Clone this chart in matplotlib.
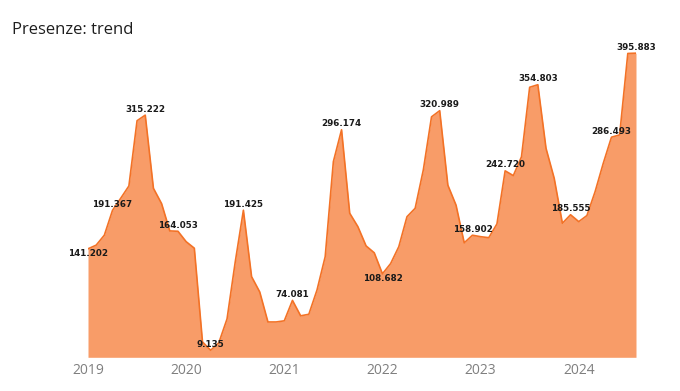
import numpy as np
import pandas as pd
import matplotlib
matplotlib.use("Agg")
import matplotlib.pyplot as plt

# monthly presences, Jan 2019 - Aug 2024
months = pd.date_range("2019-01-01", "2024-08-01", freq="MS")
presenze = [
    141202, 146000, 159000, 191367, 207000, 223000, 308000, 315222, 220000, 200000, 164500, 164053,
    150500, 142000, 20000, 9135, 19000, 50000, 124000, 191425, 105000, 85000, 46000, 46000,
    47500, 74081, 54000, 56000, 87600, 131000, 254700, 296174, 187500, 170000, 145000, 136000,
    108682, 122000, 144000, 183000, 194000, 244000, 313000, 320989, 224000, 198000, 149000, 158902,
    157000, 155700, 173600, 242720, 236500, 261000, 351500, 354803, 272000, 233000, 174500, 185555,
    176600, 184500, 215600, 252600, 286493, 289500, 395500, 395883,
]
labelled = [0, 3, 7, 11, 15, 19, 25, 31, 36, 43, 47, 51, 55, 59, 64, 67]
below = [0, 36]
year_labels = ["2019", "2020", "2021", "2022", "2023", "2024"]

x = np.arange(len(presenze))
y = np.array(presenze)

fig = plt.figure(figsize=(6.8, 3.91), dpi=100)
ax = fig.add_axes([88 / 680, 1 - 357.3 / 391, (636 - 88) / 680, (357.3 - 50) / 391])

ax.fill_between(x, y, 0, color="#f89c68", linewidth=0)
ax.plot(x, y, color="#f37226", linewidth=1.2)

for i in labelled:
    txt = f"{presenze[i]:,}".replace(",", ".")
    off = -3.5 if i in below else 4.2
    ax.annotate(txt, (x[i], y[i]), xytext=(0, off), textcoords="offset points",
                ha="center", va="center", fontsize=6.3, fontweight="bold",
                family="DejaVu Sans", color="#1a1a1a")

ax.set_xlim(0, len(presenze) - 1)
ax.set_ylim(0, 400000)
ax.set_xticks(np.arange(0, len(presenze), 12))
ax.set_xticklabels(year_labels, fontsize=10, color="#7f7f7f", family="Open Sans")
ax.tick_params(axis="x", length=0, pad=4)
ax.set_yticks([])
for s in ax.spines.values():
    s.set_visible(False)

fig.text(12.5 / 680, 1 - 34.3 / 391, "Presenze: trend", fontsize=12, family="Open Sans",
         color="#1e1e1e", ha="left", va="baseline")

fig.savefig("out.png", dpi=100)
